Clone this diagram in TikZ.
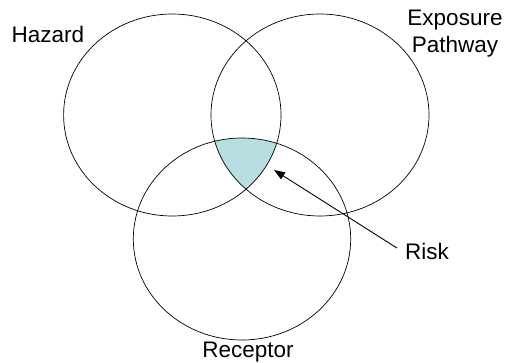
\documentclass[tikz,border=0pt]{standalone}
\usepackage{fontspec}
\setmainfont{Liberation Sans}
\usetikzlibrary{arrows.meta}
\definecolor{riskfill}{RGB}{184,222,226}
\tikzset{
  setcirc/.style={draw=black, line width=0.7pt},
  lbl/.style={font=\fontsize{22.5}{27}\selectfont, align=center, inner sep=0pt},
  pointer/.style={line width=0.9pt, -{Triangle[length=11pt,width=8pt]}}
}
\begin{document}
\begin{tikzpicture}[x=1pt,y=-1pt]
\useasboundingbox (0,0) rectangle (506,362);
% risk region
\begin{scope}
  \clip (172.3,115) ellipse [x radius=108.7, y radius=101];
  \clip (320,115) ellipse [x radius=109, y radius=101];
  \fill[riskfill] (242,239) ellipse [x radius=108.7, y radius=101];
\end{scope}
\draw[setcirc] (172.3,115) ellipse [x radius=108.7, y radius=101];
\draw[setcirc] (320,115) ellipse [x radius=109, y radius=101];
\draw[setcirc] (242,239) ellipse [x radius=108.7, y radius=101];
\node[lbl] (hazard) at (48,34) {Hazard};
\node[lbl] (exposure) at (455,34) {Exposure\\Pathway};
\node[lbl] (receptor) at (248,352) {Receptor};
\node[lbl] (risk) at (427,251) {Risk};
\coordinate (tip) at (274,170);
\draw[pointer] (risk.west) ++(-8,-3) coordinate (tail) -- (tip);
\end{tikzpicture}
\end{document}
